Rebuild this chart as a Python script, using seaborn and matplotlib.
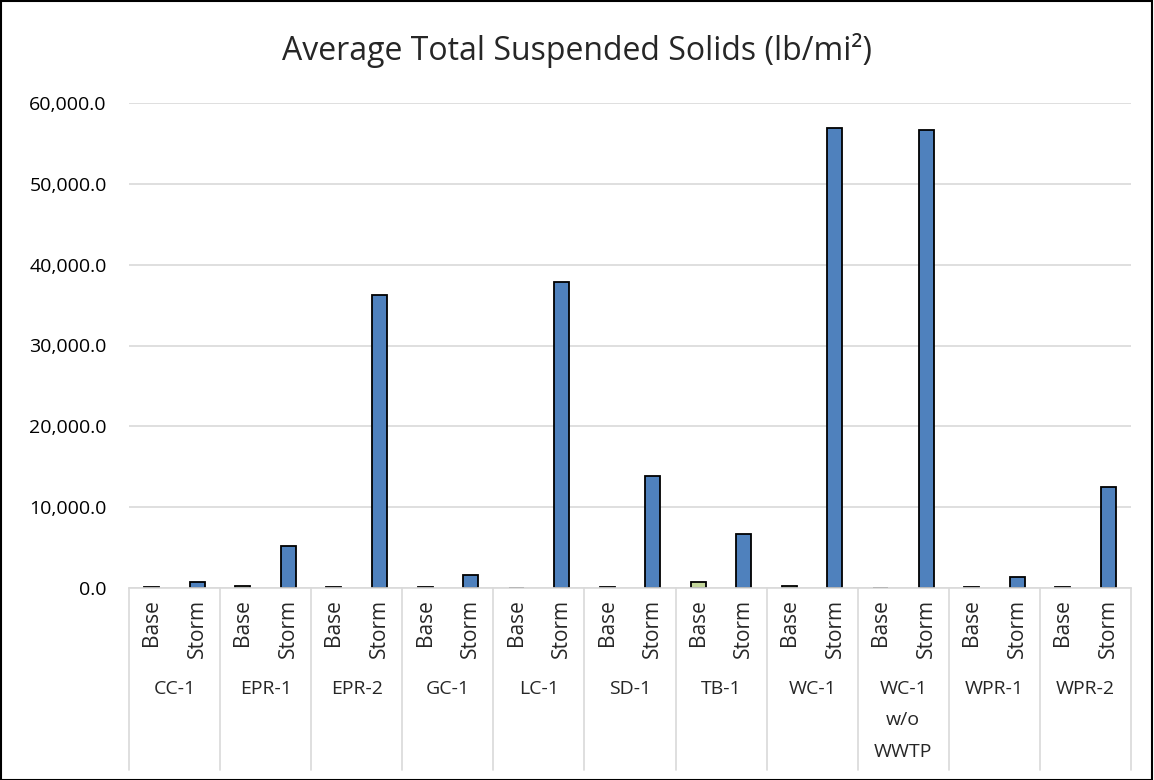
import numpy as np
import pandas as pd
import matplotlib.pyplot as plt
import matplotlib.transforms as mtransforms
from matplotlib.patches import Rectangle
from matplotlib.ticker import FuncFormatter
import seaborn as sns

# ── data ──────────────────────────────────────────────────────────────────────
sites = ["CC-1", "EPR-1", "EPR-2", "GC-1", "LC-1", "SD-1",
         "TB-1", "WC-1", "WC-1\nw/o\nWWTP", "WPR-1", "WPR-2"]
base_vals  = [150, 250, 80, 120, 60, 70, 700, 200, 0, 100, 150]
storm_vals = [700, 5200, 36200, 1650, 37850, 13900, 6650, 56900, 56700, 1350, 12450]
kinds = ["Base", "Storm"]

rows = []
for s, b, st in zip(sites, base_vals, storm_vals):
    rows.append({"slot": s + "|Base", "kind": "Base", "value": b})
    rows.append({"slot": s + "|Storm", "kind": "Storm", "value": st})
df = pd.DataFrame(rows)
order = list(df["slot"])

# ── figure ────────────────────────────────────────────────────────────────────
sns.set_theme(style="white")
plt.rcParams["font.family"] = ["Open Sans", "DejaVu Sans"]

W, H = 1154, 780
fig = plt.figure(figsize=(W / 100, H / 100), dpi=100)
ax = fig.add_axes([129 / W, 1 - 588 / H, 1002 / W, 485 / H])

sns.barplot(
    data=df, x="slot", y="value", hue="kind", order=order,
    palette={"Base": "#C3D69B", "Storm": "#4F81BD"}, saturation=1,
    dodge=False, width=0.33, edgecolor="black", linewidth=1.3,
    legend=False, ax=ax,
)

ax.set_ylim(0, 60000)
ax.set_xlim(-0.5, len(order) - 0.5)
ax.set_yticks(np.arange(0, 60001, 10000))
ax.yaxis.set_major_formatter(FuncFormatter(lambda v, p: f"{v:,.1f}"))
ax.tick_params(axis="y", labelsize=14, length=0, pad=16, colors="#000000")
ax.set_axisbelow(True)
ax.yaxis.grid(True, color="#D9D9D9", linewidth=1.2)
for sp in ["top", "right", "left"]:
    ax.spines[sp].set_visible(False)
ax.spines["bottom"].set_color("#D9D9D9")
ax.spines["bottom"].set_linewidth(1.2)

ax.set_xticks(range(len(order)))
ax.set_xticklabels([k for k in df["kind"]], rotation=90, fontsize=15)
ax.tick_params(axis="x", length=0, pad=8)
for t in ax.get_xticklabels():
    t.set_va("top")
    t.set_ha("center")
ax.set_xlabel("")
ax.set_ylabel("")

# category table below the axis
trans = mtransforms.blended_transform_factory(ax.transData, ax.transAxes)
ax_h = 485
for i in range(len(sites) + 1):
    x = 2 * i - 0.5
    ax.plot([x, x], [0, -(770 - 588) / ax_h], color="#D9D9D9", lw=1.2,
            transform=trans, clip_on=False)
for i, s in enumerate(sites):
    ax.text(2 * i + 0.5, -(680 - 588) / ax_h, s, transform=trans,
            ha="center", va="top", fontsize=14, linespacing=1.95)

fig.text(0.5, 1 - 50 / H, "Average Total Suspended Solids (lb/mi²)",
         ha="center", va="center", fontsize=23)

fig.patches.append(Rectangle((0.5 / W, 0.5 / H), 1 - 2.5 / W, 1 - 1.5 / H,
                             transform=fig.transFigure, fill=False,
                             edgecolor="black", linewidth=1.5))

fig.savefig("out.png", dpi=100)
